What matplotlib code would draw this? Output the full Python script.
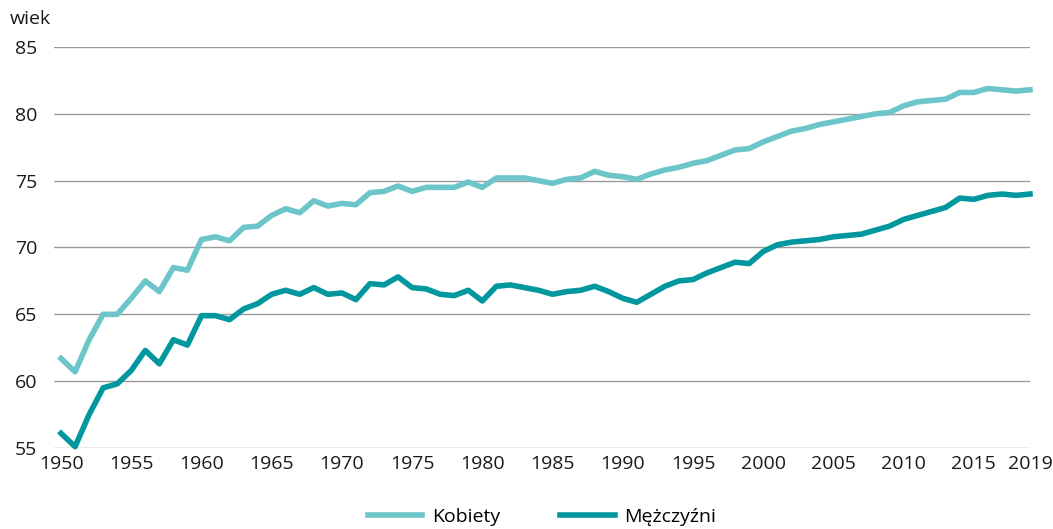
import numpy as np
import matplotlib
matplotlib.use("Agg")
import matplotlib.pyplot as plt

years = list(range(1950, 2020))
kobiety = [61.7, 60.7, 63.1, 65.0, 65.0, 66.2, 67.5, 66.7, 68.5, 68.3,
           70.6, 70.8, 70.5, 71.5, 71.6, 72.4, 72.9, 72.6, 73.5, 73.1,
           73.3, 73.2, 74.1, 74.2, 74.6, 74.2, 74.5, 74.5, 74.5, 74.9,
           74.5, 75.2, 75.2, 75.2, 75.0, 74.8, 75.1, 75.2, 75.7, 75.4,
           75.3, 75.1, 75.5, 75.8, 76.0, 76.3, 76.5, 76.9, 77.3, 77.4,
           77.9, 78.3, 78.7, 78.9, 79.2, 79.4, 79.6, 79.8, 80.0, 80.1,
           80.6, 80.9, 81.0, 81.1, 81.6, 81.6, 81.9, 81.8, 81.7, 81.8]
mezczyzni = [56.1, 55.1, 57.5, 59.5, 59.8, 60.8, 62.3, 61.3, 63.1, 62.7,
             64.9, 64.9, 64.6, 65.4, 65.8, 66.5, 66.8, 66.5, 67.0, 66.5,
             66.6, 66.1, 67.3, 67.2, 67.8, 67.0, 66.9, 66.5, 66.4, 66.8,
             66.0, 67.1, 67.2, 67.0, 66.8, 66.5, 66.7, 66.8, 67.1, 66.7,
             66.2, 65.9, 66.5, 67.1, 67.5, 67.6, 68.1, 68.5, 68.9, 68.8,
             69.7, 70.2, 70.4, 70.5, 70.6, 70.8, 70.9, 71.0, 71.3, 71.6,
             72.1, 72.4, 72.7, 73.0, 73.7, 73.6, 73.9, 74.0, 73.9, 74.0]
xticks = list(range(1950, 2016, 5)) + [2019]
yticks = [55, 60, 65, 70, 75, 80, 85]

plt.rcParams['font.family'] = ['Open Sans', 'DejaVu Sans']

fig = plt.figure(figsize=(10.53, 5.29), dpi=100)
ax = fig.add_axes([54 / 1053, 1 - 448 / 529, (1030 - 54) / 1053, (448 - 47) / 529])

ax.plot(years, kobiety, color="#6cc5c9", lw=4, label="Kobiety",
        solid_joinstyle="round", clip_on=False)
ax.plot(years, mezczyzni, color="#00979e", lw=4, label="Mężczyźni",
        solid_joinstyle="round", clip_on=False)

ax.set_xlim(1949.5, 2019)
ax.set_ylim(55, 85)
ax.set_xticks(xticks)
ax.set_yticks(yticks)
ax.tick_params(length=0, labelsize=14, colors="#1a1a1a")
ax.tick_params(axis="y", pad=12)
ax.tick_params(axis="x", pad=5)
ax.grid(axis="y", color="#9a9a9a", lw=1)
ax.set_axisbelow(True)
for s in ax.spines.values():
    s.set_visible(False)

fig.text(10 / 1053, 1 - 19 / 529, "wiek", fontsize=14, color="#1a1a1a", va="center")

fig.legend(loc="center", bbox_to_anchor=(542 / 1053, 1 - 517 / 529), ncol=2, frameon=False,
           fontsize=14, handlelength=2.8, columnspacing=3.1, handletextpad=0.5)

fig.savefig("out.png", dpi=100)
